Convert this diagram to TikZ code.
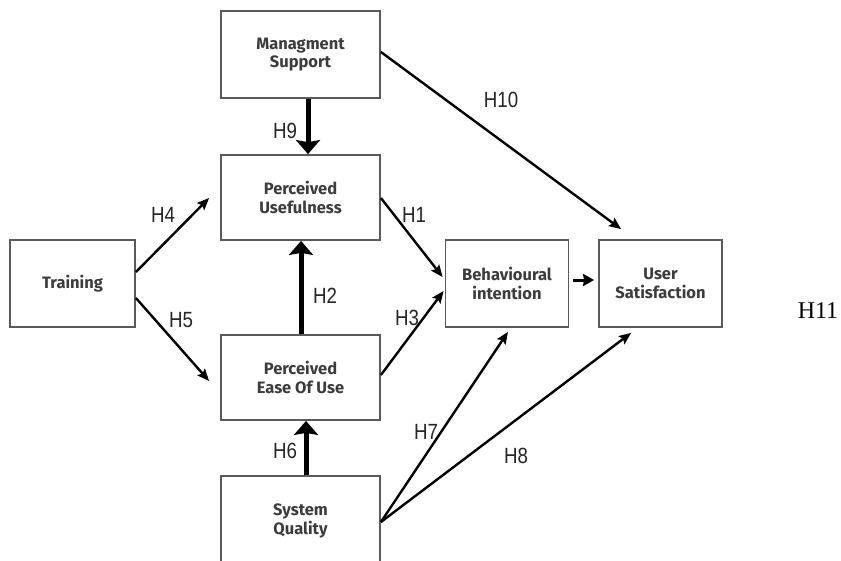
\documentclass[tikz,border=0pt]{standalone}
\usepackage{fontspec}
\setmainfont{Fira Sans}
\newfontfamily\hlabelfont[FakeStretch=0.85]{Liberation Sans}
\newfontfamily\romanfont{Liberation Serif}
\usetikzlibrary{arrows.meta}

\definecolor{boxline}{HTML}{5A5A5A}
\definecolor{boxtext}{HTML}{3C3C3C}

\tikzset{
  construct/.style={draw=boxline, line width=1.8pt, fill=white, rectangle,
    inner sep=0pt, align=center, text=boxtext,
    font=\fontsize{16.5}{18.5}\selectfont\bfseries},
  path/.style={line width=2.4pt, draw=black,
    -{Stealth[length=12pt,width=10pt,inset=2pt]}},
  strongpath/.style={line width=5pt, draw=black,
    -{Stealth[length=14pt,width=24pt,inset=2pt]}},
  hyp/.style={font=\hlabelfont\fontsize{22}{24}\selectfont, text=black!85, inner sep=0pt},
}

\begin{document}
\begin{tikzpicture}[x=1pt,y=-1pt]
  \useasboundingbox (0,0) rectangle (841,560);
  \fill[white] (0,0) rectangle (841,560);
  \clip (0,0) rectangle (841,560);

  % constructs
  \node[construct, minimum width=159pt, minimum height=87pt] (ms) at (300.5,54.5) {Managment\\Support};
  \node[construct, minimum width=159pt, minimum height=85pt] (pu) at (300.5,197.5) {Perceived\\Usefulness};
  \node[construct, minimum width=125pt, minimum height=87pt] (tr) at (72.5,283.5) {Training};
  \node[construct, minimum width=159pt, minimum height=85pt] (peou) at (300.5,377.5) {Perceived\\Ease Of Use};
  \node[construct, minimum width=159pt, minimum height=90pt] (sq) at (300.5,521) {System\\Quality};
  \node[construct, minimum width=123pt, minimum height=87pt] (bi) at (507,283.5) {Behavioural\\intention};
  \node[construct, minimum width=123pt, minimum height=87pt] (us) at (660.5,283.5) {User\\Satisfaction};

  % end points of the thin paths
  \coordinate (h4t) at ([xshift=-11pt,yshift=-0.5pt]pu.west);
  \coordinate (h5t) at ([xshift=-11pt,yshift=-3.5pt]peou.west);
  \coordinate (h1t) at ([xshift=-2pt,yshift=6.5pt]bi.west);
  \coordinate (h3t) at ([xshift=-1pt,yshift=-7.5pt]bi.west);
  \coordinate (h10t) at ([xshift=23pt,yshift=10pt]us.north west);
  \coordinate (h7t) at ([xshift=1pt,yshift=-4pt]bi.south);
  \coordinate (h8t) at ([xshift=33pt,yshift=-5pt]us.south west);

  % hypotheses paths
  \draw[strongpath] ([xshift=7.5pt]ms.south) -- ([xshift=7.5pt]pu.north);
  \draw[strongpath] ([xshift=0.5pt]peou.north) -- ([xshift=0.5pt]pu.south);
  \draw[strongpath] ([xshift=5.5pt]sq.north) -- ([xshift=5.5pt]peou.south);

  \draw[path] ([yshift=11.5pt]tr.east) -- (h4t);
  \draw[path] ([yshift=-14.5pt]tr.east) -- (h5t);
  \draw[path] ([yshift=-0.5pt]pu.east) -- (h1t);
  \draw[path] ([yshift=2.5pt]peou.east) -- (h3t);
  \draw[path] ([yshift=2.5pt]ms.east) -- (h10t);
  \draw[path] ([yshift=-1pt]sq.east) -- (h7t);
  \draw[path] ([yshift=-1pt]sq.east) -- (h8t);
  \draw[line width=3pt, -{Stealth[length=11pt,width=12pt,inset=1pt]}]
    ([xshift=4pt,yshift=3.5pt]bi.east) -- ([xshift=-4pt,yshift=3.5pt]us.west);

  % hypothesis labels
  \node[hyp] (l1) at (414,215) {H1};
  \node[hyp] (l2) at (325,296) {H2};
  \node[hyp] (l3) at (407,318) {H3};
  \node[hyp] (l4) at (163,215) {H4};
  \node[hyp] (l5) at (181,320) {H5};
  \node[hyp] (l6) at (285,451) {H6};
  \node[hyp] (l7) at (426,432) {H7};
  \node[hyp] (l8) at (516,456) {H8};
  \node[hyp] (l9) at (285,131) {H9};
  \node[hyp] (l10) at (501,100) {H10};
  \node[font=\romanfont\fontsize{24}{26}\selectfont, inner sep=0pt] (l11) at (818,311) {H11};
\end{tikzpicture}
\end{document}
